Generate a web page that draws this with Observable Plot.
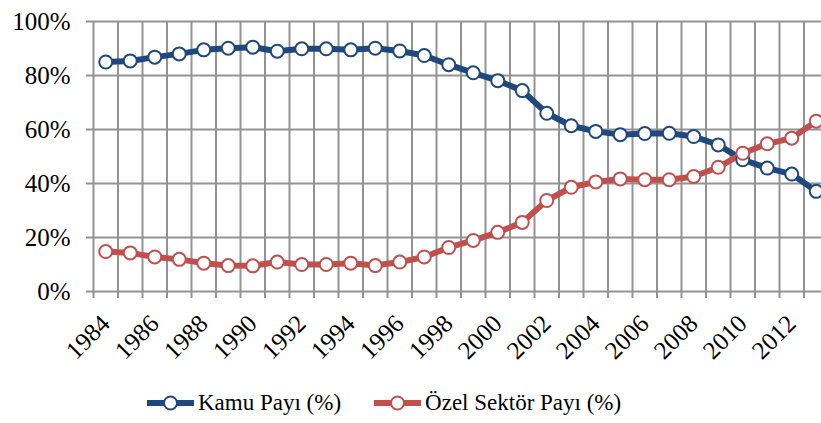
<!DOCTYPE html>
<html><head><meta charset="utf-8">
<script src="https://cdn.jsdelivr.net/npm/d3@7"></script>
<script src="https://cdn.jsdelivr.net/npm/@observablehq/plot@0.6"></script>
<style>
body{margin:0;background:#fff;width:821px;height:423px;overflow:hidden;font-family:'Liberation Serif',serif;}
#legend{display:flex;align-items:center;height:50px;padding-left:147px;font-size:23px;color:#000;font-family:'Liberation Serif',serif;}
.item{display:flex;align-items:center;margin-right:33px;}
.item svg{margin-right:4px;}
</style></head><body>
<div id="chart"></div>
<div id="legend"></div>
<script>
const years = d3.range(1984, 2014);
const kamu = [85.0,85.4,86.8,88.0,89.5,90.1,90.5,89.0,89.9,89.9,89.5,90.1,89.1,87.4,84.0,81.0,78.1,74.4,66.0,61.4,59.3,58.1,58.5,58.6,57.4,54.3,48.8,45.7,43.5,37.1];
const ozel = [14.8,14.3,12.8,11.9,10.5,9.6,9.5,10.9,10.0,10.0,10.5,9.6,10.9,12.8,16.3,18.9,21.9,25.6,33.7,38.6,40.6,41.7,41.4,41.4,42.6,46.0,51.2,54.7,56.8,63.1];
const seriesNames = ["Kamu Payı (%)", "Özel Sektör Payı (%)"];
const colors = ["#1F497D", "#C0504D"];
const yTicks = [0,20,40,60,80,100];
const labelYears = years.filter(y => y % 2 === 0);
const boundaries = d3.range(1983.5, 2013, 1);

const data = [];
years.forEach((y,i) => {
  data.push({year:y, value:kamu[i], s:seriesNames[0]});
  data.push({year:y, value:ozel[i], s:seriesNames[1]});
});

const W = 821, H = 378;
const grid = "#939393";
const FONT = "Liberation Serif";
const chart = Plot.plot({
  width: W, height: H,
  marginLeft: 93, marginTop: 21, marginBottom: H - 291, marginRight: 0,
  style: {background: "#fff", overflow: "visible"},
  x: {type: "linear", domain: [1983.5, 2013.5], range: [93, 828], axis: null, label: null},
  y: {domain: [0, 100], axis: null, label: null},
  color: {domain: seriesNames, range: colors},
  marks: [
    Plot.ruleY(yTicks, {stroke: grid, strokeWidth: 2, strokeOpacity: 1}),
    Plot.ruleX(boundaries, {y1: 0, y2: 100, stroke: grid, strokeWidth: 2}),
    Plot.axisY(yTicks, {label: null, tickSize: 7, tickPadding: 16, stroke: grid, strokeWidth: 2, fontSize: 25, fontFamily: FONT, fill: "#000", tickFormat: d => d + "%"}),
    Plot.axisX(boundaries, {label: null, tickSize: 7, stroke: grid, strokeWidth: 2, tickFormat: () => ""}),
    Plot.text(labelYears, {x: d => d, y: () => 0, text: d => String(d), dy: 28, rotate: -45, textAnchor: "end", lineAnchor: "middle", fontSize: 25, fontFamily: FONT, fill: "#000", className: "xlab"}),
    Plot.line(data, {x: "year", y: "value", z: "s", stroke: "s", strokeWidth: 6}),
    Plot.dot(data, {x: "year", y: "value", stroke: "s", fill: "#fff", r: 6.5, strokeWidth: 2})
  ]
});
chart.setAttribute("font-family", FONT);
chart.style.fontFamily = FONT;
chart.querySelectorAll("g, text").forEach(t => { t.setAttribute("font-family", FONT); t.style.fontFamily = FONT; });
chart.querySelectorAll("g[aria-label='text'] text").forEach(t => { t.style.fontSize = "25px"; });
document.getElementById("chart").appendChild(chart);

const legend = document.getElementById("legend");
seriesNames.forEach((n,i) => {
  const item = document.createElement("div");
  item.className = "item";
  item.innerHTML = `<svg width="47" height="20"><line x1="0" x2="47" y1="10" y2="10" stroke="${colors[i]}" stroke-width="6"/><circle cx="23.5" cy="10" r="6.5" fill="#fff" stroke="${colors[i]}" stroke-width="2"/></svg><span>${n}</span>`;
  legend.appendChild(item);
});
</script>
</body></html>
